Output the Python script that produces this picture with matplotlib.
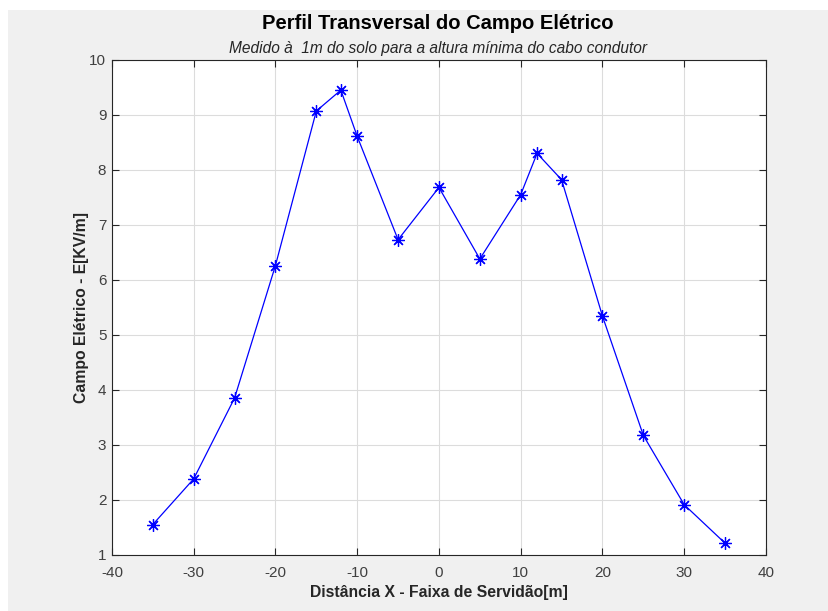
import matplotlib
matplotlib.use('Agg')
import matplotlib.pyplot as plt
from matplotlib.patches import Rectangle

plt.rcParams['font.family'] = ['Liberation Sans', 'DejaVu Sans']
plt.rcParams['axes.unicode_minus'] = False

# posições ao longo da faixa de servidão [m]
distancia = [-35, -30, -25, -20, -15, -12, -10, -5, 0, 5, 10, 12, 15, 20, 25, 30, 35]
# campo elétrico medido a 1 m do solo [kV/m]
campo = [1.55, 2.38, 3.85, 6.26, 9.07, 9.45, 8.61, 6.73, 7.68, 6.38, 7.55, 8.30, 7.82, 5.34, 3.17, 1.91, 1.21]

xticks = list(range(-40, 41, 10))
yticks = list(range(1, 11))

fig = plt.figure(figsize=(8.29, 6.11), dpi=100, facecolor='white')
# fundo cinza estilo matlab
fig.patches.append(Rectangle((8 / 829, 0), 1, 1 - 10 / 611, transform=fig.transFigure,
                             facecolor='#f0f0f0', edgecolor='none', zorder=-1))

ax = fig.add_axes([0.135, 0.092, 0.789, 0.81])
# asterisco tipo matlab (+ sobreposto a x)
ax.plot(distancia, campo, color='#0000ff', linewidth=0.9, marker=(8, 2, 0), markersize=9,
        markeredgewidth=0.9)

ax.set_xlim(-40, 40)
ax.set_ylim(1, 10)
ax.set_xticks(xticks)
ax.set_yticks(yticks)
ax.grid(True, color='#dcdcdc', linewidth=0.8)
ax.set_axisbelow(True)
ax.tick_params(direction='in', top=True, right=True, length=5, width=0.8,
               colors='#262626', labelcolor='#404040', labelsize=11)
ax.tick_params(axis='x', pad=8)
ax.tick_params(axis='y', pad=4)
for sp in ax.spines.values():
    sp.set_color('#262626')
    sp.set_linewidth(0.8)

ax.set_xlabel('Distância X - Faixa de Servidão[m]', fontsize=11.3, fontweight='bold',
              color='#262626', labelpad=3.5)
ax.set_ylabel('Campo Elétrico - E[KV/m]', fontsize=11.3, fontweight='bold',
              color='#262626', labelpad=0.5)

fig.text(0.5285, 0.962, 'Perfil Transversal do Campo Elétrico', ha='center', va='center',
         fontsize=14.5, fontweight='bold', color='black')
fig.text(0.5285, 0.921, 'Medido à  1m do solo para a altura mínima do cabo condutor',
         ha='center', va='center', fontsize=11.2, style='italic', color='#262626')

fig.savefig('out.png', dpi=100, facecolor=fig.get_facecolor())
